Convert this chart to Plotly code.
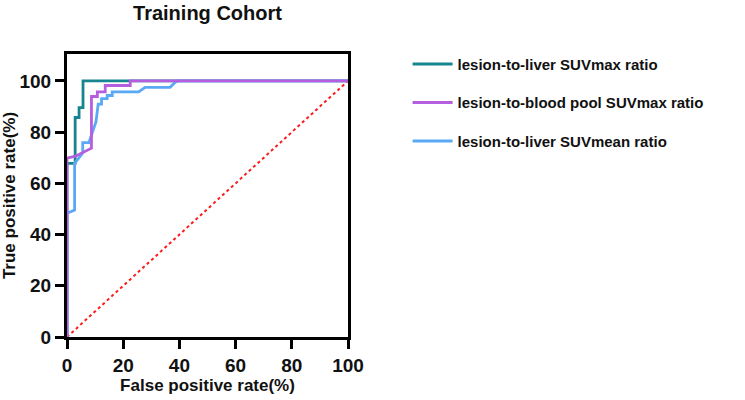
import plotly.graph_objects as go

# ROC curve points (FPR %, TPR %)
liver_max_fpr = [0, 0, 2.9, 2.9, 4.3, 4.3, 5.7, 5.7, 22.5, 100]
liver_max_tpr = [0, 67.8, 67.8, 85.7, 85.7, 89.6, 89.6, 100, 100, 100]

blood_max_fpr = [0, 0, 3.0, 8.7, 8.7, 10.8, 10.8, 13.6, 13.6, 22.5, 22.5, 100]
blood_max_tpr = [0, 69.8, 70.6, 73.7, 93.9, 93.9, 95.7, 95.7, 98.2, 98.2, 100, 100]

liver_mean_fpr = [0, 0, 2.7, 2.7, 5.6, 5.6, 7.8, 10.3, 11.1, 12.3, 12.3, 14.3, 14.3,
                  16.1, 16.1, 25.5, 27.8, 36.7, 38.5, 39.5, 100]
liver_mean_tpr = [0, 48.3, 49.6, 67.8, 71.8, 75.9, 75.9, 84.0, 90.9, 90.9, 93.1, 93.1, 94.3,
                  94.3, 95.7, 95.7, 97.5, 97.5, 99.5, 100, 100]

ref_x = [0, 100]
ref_y = [0, 100]

names = ["lesion-to-liver SUVmax ratio",
         "lesion-to-blood pool SUVmax ratio",
         "lesion-to-liver SUVmean ratio"]
colors = ["#17858f", "#b55fe0", "#5aa9f5"]

x_ticks = [0, 20, 40, 60, 80, 100]
y_ticks = [0, 20, 40, 60, 80, 100]

FONT = "Liberation Sans, Arial, sans-serif"
TXT = "#111111"

fig = go.Figure()
fig.add_trace(go.Scatter(x=ref_x, y=ref_y, mode="lines", showlegend=False,
                         line=dict(color="#ff1a1a", width=2, dash="dot"), hoverinfo="skip"))
fig.add_trace(go.Scatter(x=liver_max_fpr, y=liver_max_tpr, mode="lines", name=names[0],
                         legendgroup="a", legendrank=1, line=dict(color=colors[0], width=2.8)))
fig.add_trace(go.Scatter(x=liver_mean_fpr, y=liver_mean_tpr, mode="lines", name=names[2],
                         legendgroup="c", legendrank=3, line=dict(color=colors[2], width=2.8)))
fig.add_trace(go.Scatter(x=blood_max_fpr, y=blood_max_tpr, mode="lines", name=names[1],
                         legendgroup="b", legendrank=2, line=dict(color=colors[1], width=2.8)))

fig.update_layout(
    width=745, height=400,
    margin=dict(l=67, r=397, t=54, b=63),
    paper_bgcolor="white", plot_bgcolor="white",
    font=dict(family=FONT, color=TXT, weight="bold"),
    title=dict(text="Training Cohort", x=0.5, xref="paper", xanchor="center",
               y=1 - 13 / 400, yanchor="middle", yref="container",
               font=dict(size=20, family=FONT, weight="bold", color=TXT)),
    showlegend=True,
    legend=dict(x=1.212, y=1.022, xanchor="left", yanchor="top",
                font=dict(size=15, family=FONT, weight="bold", color=TXT),
                tracegroupgap=16, itemwidth=40, bgcolor="rgba(0,0,0,0)"),
)
fig.update_xaxes(range=[0, 100], tickvals=x_ticks, ticks="outside", ticklen=9, tickwidth=3,
                 tickcolor="black", showline=True, linecolor="black", linewidth=3, mirror=True,
                 showgrid=False, zeroline=False, automargin=False,
                 tickfont=dict(size=19, family=FONT, weight="bold", color=TXT),
                 title=dict(text="False positive rate(%)", standoff=0,
                            font=dict(size=17, family=FONT, weight="bold", color=TXT)))
fig.update_yaxes(range=[0, 110.5], tickvals=y_ticks, ticks="outside", ticklen=9, tickwidth=3,
                 tickcolor="black", showline=True, linecolor="black", linewidth=3, mirror=True,
                 showgrid=False, zeroline=False, automargin=False,
                 tickfont=dict(size=19, family=FONT, weight="bold", color=TXT),
                 title=dict(text="True positive rate(%)", standoff=4,
                            font=dict(size=17, family=FONT, weight="bold", color=TXT)))

fig.write_html("out.html", config={"displayModeBar": False},
               post_script="document.body.style.margin='0';document.body.style.overflow='hidden';")
